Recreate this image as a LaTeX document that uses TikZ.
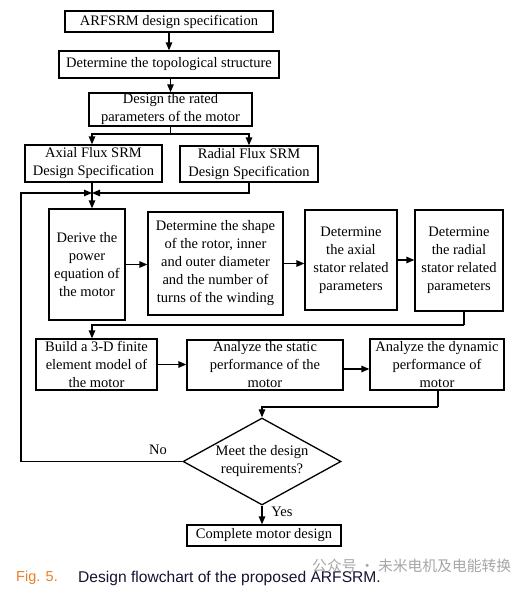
\documentclass[tikz,border=0pt]{standalone}
\usepackage{fontspec}
\setmainfont{Liberation Serif}
\newfontfamily\capfont{Liberation Sans}
\newfontfamily\cjkfont{Noto Sans CJK SC}
\usetikzlibrary{arrows.meta,shapes.geometric}
\definecolor{figorange}{RGB}{232,128,40}
\definecolor{capblue}{RGB}{20,20,50}
\begin{document}
\begin{tikzpicture}[x=1pt,y=-1pt,
  box/.style={draw,line width=1.3pt,inner sep=1pt,align=center,font=\fontsize{14.5}{18}\selectfont},
  dec/.style={draw,line width=1.3pt,diamond,aspect=1.8,inner sep=0pt,align=center,font=\fontsize{14.5}{18}\selectfont},
  conn/.style={line width=1.3pt},
  arr/.style={line width=1.3pt,-{Triangle[length=8pt,width=6.5pt]}},
  lbl/.style={font=\fontsize{14.5}{17}\selectfont}]
\useasboundingbox (0,0) rectangle (531,591);
\node[box,minimum width=208pt,minimum height=21pt] (spec) at (169,21.5) {ARFSRM design specification};
\node[box,minimum width=220pt,minimum height=27pt] (topo) at (169,64.5) {Determine the topological structure};
\node[box,minimum width=163pt,minimum height=33pt] (rated) at (170.5,109.5) {Design the rated\\parameters of the motor};
\node[box,minimum width=137pt,minimum height=37pt] (axial) at (93.5,163.5) {Axial Flux SRM\\Design Specification};
\node[box,minimum width=138pt,minimum height=36pt] (radial) at (249,164) {Radial Flux SRM\\Design Specification};
\node[box,minimum width=76pt,minimum height=111pt] (derive) at (87,264.5) {Derive the\\power\\equation of\\the motor};
\node[box,minimum width=135pt,minimum height=103pt] (shape) at (215.5,263.5) {Determine the shape\\of the rotor, inner\\and outer diameter\\and the number of\\turns of the winding};
\node[box,minimum width=92pt,minimum height=100pt] (axst) at (351,260) {Determine\\the axial\\stator related\\parameters};
\node[box,minimum width=88pt,minimum height=101pt] (radst) at (459,260.5) {Determine\\the radial\\stator related\\parameters};
\node[box,minimum width=121pt,minimum height=51pt] (build) at (96.5,364.5) {Build a 3-D finite\\element model of\\the motor};
\node[box,minimum width=156pt,minimum height=50pt] (static) at (265,365) {Analyze the static\\performance of the\\motor};
\node[box,minimum width=134pt,minimum height=51pt] (dyn) at (437,364.5) {Analyze the dynamic\\performance of\\motor};
\node[dec,minimum width=158pt,minimum height=87pt] (meet) at (262,461.5) {Meet the design\\requirements?};
\node[box,minimum width=154pt,minimum height=21pt] (done) at (264,535.5) {Complete motor design};
% coordinates
\coordinate (b1) at (170.5,134);
\coordinate (j) at (92,193);
\coordinate (fb) at (21,193);
\coordinate (r1) at (464,325);
\coordinate (d1) at (438,407);
% connectors
\draw[arr] (spec) -- (topo);
\draw[arr] (topo.south -| rated.north) -- (rated);
\draw[conn] (rated.south) -- (b1);
\draw[arr] (b1) -| (axial.north -| j);
\draw[arr] (b1) -| (radial.north);
\draw[conn] (axial.south -| j) -- (j);
\draw[arr] (radial.south) |- (j);
\draw[arr] (j) -- (derive.north -| j);
\draw[arr] (derive.east) -- (shape.west |- derive.east);
\draw[arr] (shape.east) -- (axst.west |- shape.east);
\draw[arr] (axst.east) -- (radst.west |- axst.east);
\draw[conn] (radst.south -| r1) -- (r1);
\draw[arr] (r1) -| (build.north -| j);
\draw[arr] (build.east) -- (static.west |- build.east);
\draw[arr] (static.east |- 0,369) -- (dyn.west |- 0,369);
\draw[conn] (dyn.south -| d1) -- (d1);
\draw[arr] (d1) -| (meet.north);
\draw[arr] (meet.west) -| (fb) -- (j);
\draw[arr] (meet.south) -- (done.north -| meet.south);
\node[lbl] (no) at (158,450) {No};
\node[lbl] (yes) at (282,512) {Yes};
% caption
\node[anchor=west,inner sep=0pt,font=\capfont\fontsize{14.5}{17}\selectfont,text=figorange] (fig) at (16,578) {Fig. 5.};
\node[anchor=west,inner sep=0pt,font=\capfont\fontsize{15.6}{18}\selectfont,text=capblue] (cap) at (78,578) {Design flowchart of the proposed ARFSRM.};
\node[anchor=west,inner sep=0pt,font=\cjkfont\fontsize{14.8}{17}\selectfont,text=black!35] (wm) at (312,566) {公众号 · 未米电机及电能转换};
\end{tikzpicture}
\end{document}
